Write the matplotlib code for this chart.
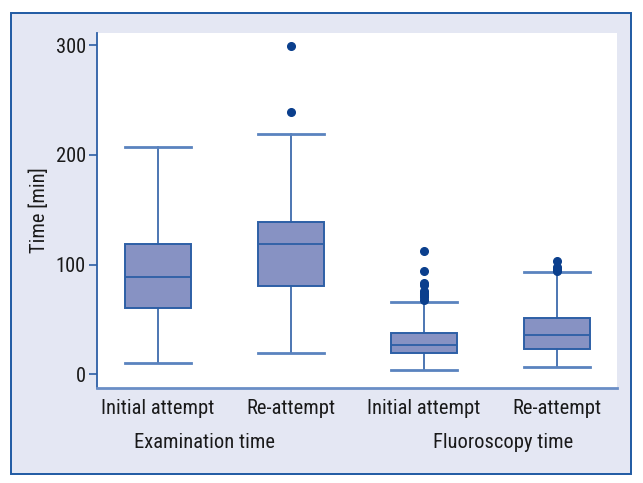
import matplotlib
matplotlib.use("Agg")
import matplotlib.pyplot as plt
from matplotlib.patches import Rectangle
import matplotlib.transforms as mtransforms

# values (minutes)
categories = ["Initial attempt", "Re-attempt", "Initial attempt", "Re-attempt"]
groups = ["Examination time", "Fluoroscopy time"]
whisker_low = [10, 19, 3.5, 6.5]
q1 = [60, 80, 19, 23]
median = [89, 119, 27, 36]
q3 = [119, 139, 38, 51]
whisker_high = [207, 219, 66, 93]
outliers = [
    [],
    [239, 299],
    [68, 70, 72, 74, 76, 81, 83, 94, 112],
    [94, 96, 98, 103],
]

BG = "#e4e7f3"
EDGE = "#2d5fa6"
FILL = "#8792c3"
DOT = "#0b3f8d"
TXT = "#1a1a1a"
plt.rcParams["font.family"] = ["Roboto Condensed", "DejaVu Sans"]
FS = 14.8

fig = plt.figure(figsize=(6.43, 4.83), dpi=100)
fig.patch.set_facecolor("white")
fig.patches.append(Rectangle((11 / 643, 9 / 483), 620 / 643, 461 / 483,
                             transform=fig.transFigure, facecolor=BG,
                             edgecolor="#1f5aa3", linewidth=1.4, zorder=-5))

ax = fig.add_axes([97 / 643, 95 / 483, 520 / 643, 355 / 483])
ax.set_zorder(2)
ax.set_facecolor("white")

stats = []
for i in range(len(categories)):
    stats.append({
        "whislo": whisker_low[i], "q1": q1[i], "med": median[i],
        "q3": q3[i], "whishi": whisker_high[i], "fliers": outliers[i],
    })

ax.bxp(stats, positions=[1, 2, 3, 4], widths=0.5, patch_artist=True,
       boxprops=dict(facecolor=FILL, edgecolor=EDGE, linewidth=1.4),
       medianprops=dict(color=EDGE, linewidth=1.3),
       whiskerprops=dict(color=EDGE, linewidth=1.2),
       capprops=dict(color="#5a83bf", linewidth=2.0),
       capwidths=0.5,
       flierprops=dict(marker="o", markerfacecolor=DOT, markeredgecolor=DOT,
                       markersize=5.5))

ax.set_xlim(0.54, 4.45)
ax.set_ylim(-12.5, 311)
ax.set_yticks([0, 100, 200, 300])
ax.set_xticks([1, 2, 3, 4])
ax.set_xticklabels(categories)
ax.tick_params(axis="y", length=6, width=1.2, color=EDGE, labelsize=FS,
               labelcolor=TXT, pad=2)
ax.tick_params(axis="x", length=0, labelsize=FS, labelcolor=TXT, pad=8)

for s in ["top", "right"]:
    ax.spines[s].set_visible(False)
ax.spines["left"].set_color(EDGE)
ax.spines["left"].set_linewidth(1.3)
ax.spines["bottom"].set_color("#6a8ec6")
ax.spines["bottom"].set_linewidth(2.0)

ax.set_ylabel("Time [min]", fontsize=FS, color=TXT, labelpad=5)

trans = mtransforms.blended_transform_factory(ax.transData, fig.transFigure)
ax.text(1.35, 1 - 443 / 483, groups[0], transform=trans, ha="center",
        va="center", fontsize=FS, color=TXT)
ax.text(3.59, 1 - 443 / 483, groups[1], transform=trans, ha="center",
        va="center", fontsize=FS, color=TXT)

fig.savefig("out.png", dpi=100)
